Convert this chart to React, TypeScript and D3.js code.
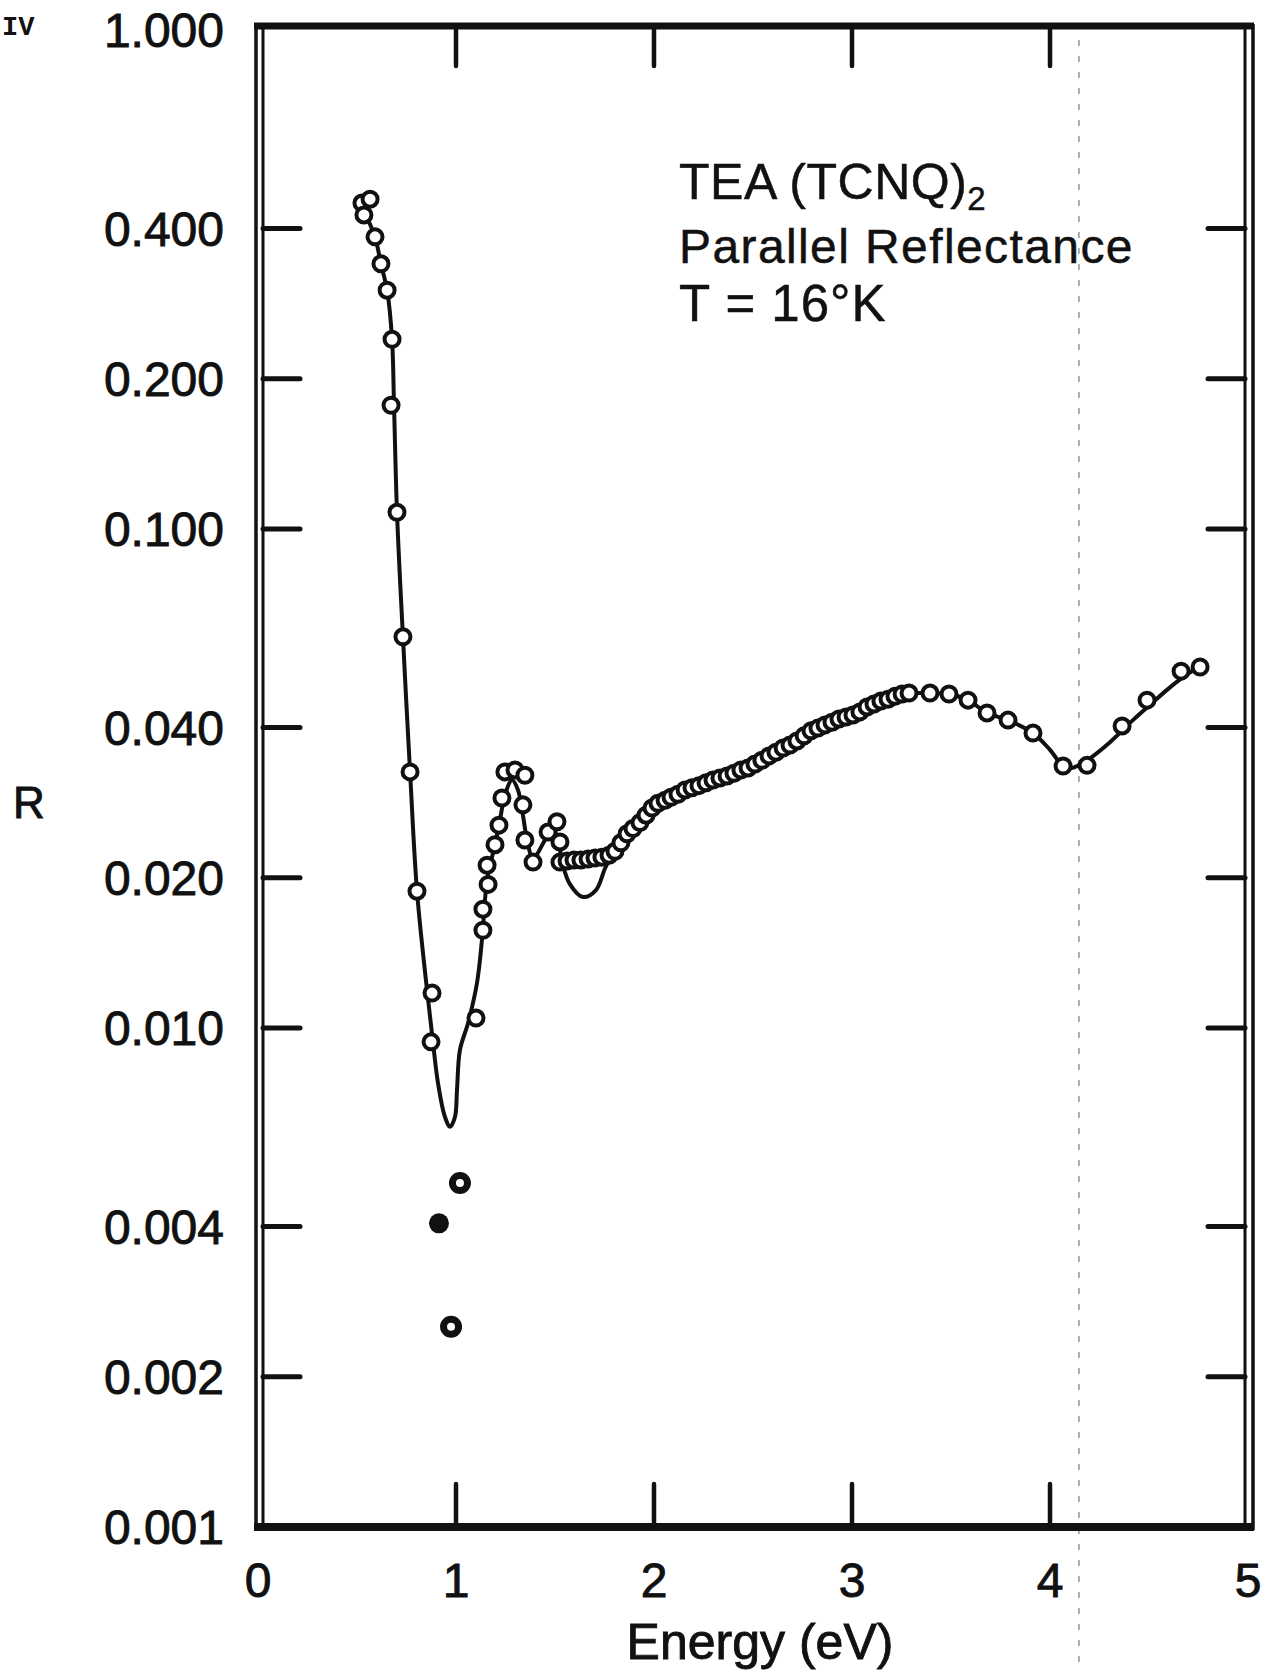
import React from "react";
import * as d3 from "d3";

// ---------- data ----------
const xTickValues = [0, 1, 2, 3, 4, 5];
const xInnerTicks = [1, 2, 3, 4];
const yTickValues = [1, 0.4, 0.2, 0.1, 0.04, 0.02, 0.01, 0.004, 0.002, 0.001];
const yTickLabels = ["1.000", "0.400", "0.200", "0.100", "0.040", "0.020", "0.010", "0.004", "0.002", "0.001"];
const yInnerTicks = [0.4, 0.2, 0.1, 0.04, 0.02, 0.01, 0.004, 0.002];

// smooth fitted curve (solid line)
const curveE = [0.556, 0.591, 0.621, 0.652, 0.677, 0.687, 0.702, 0.732, 0.768, 0.803, 0.848, 0.884, 0.909, 0.944, 0.970, 0.995, 1.005, 1.020, 1.061, 1.106, 1.131, 1.157, 1.197, 1.222, 1.247, 1.283, 1.313, 1.338, 1.359, 1.389, 1.449, 1.485, 1.515, 1.540, 1.576, 1.641, 1.707, 1.753, 1.793, 1.854, 1.924, 2.015, 2.096, 2.197, 2.298, 2.399, 2.485, 2.571, 2.636, 2.702, 2.763, 2.823, 2.904, 2.990, 3.051, 3.106, 3.167, 3.227, 3.293, 3.394, 3.490, 3.586, 3.682, 3.788, 3.914, 4.000, 4.066, 4.111, 4.187, 4.303, 4.419, 4.505, 4.591, 4.667, 4.742];
const curveR = [0.416, 0.385, 0.340, 0.301, 0.240, 0.177, 0.108, 0.0608, 0.0326, 0.0188, 0.01248, 0.00933, 0.00776, 0.00664, 0.00634, 0.00664, 0.00751, 0.00904, 0.01023, 0.01231, 0.0150, 0.0198, 0.0233, 0.0261, 0.0293, 0.0314, 0.0300, 0.0267, 0.0238, 0.0219, 0.0238, 0.0252, 0.0238, 0.0212, 0.0194, 0.0183, 0.0189, 0.0209, 0.0224, 0.0244, 0.0257, 0.0282, 0.0293, 0.0304, 0.0314, 0.0324, 0.0333, 0.0349, 0.0361, 0.0373, 0.0387, 0.0399, 0.0412, 0.0422, 0.0434, 0.0444, 0.0456, 0.0465, 0.0469, 0.0469, 0.0467, 0.0454, 0.0428, 0.0414, 0.0390, 0.0361, 0.0335, 0.0332, 0.0344, 0.0374, 0.0414, 0.0444, 0.0476, 0.0503, 0.0527];

// measured points (open circles), low-energy part
const openE = [0.525, 0.566, 0.535, 0.591, 0.621, 0.652, 0.677, 0.672, 0.702, 0.732, 0.768, 0.803, 0.879, 0.874, 1.101, 1.136, 1.136, 1.162, 1.157, 1.197, 1.217, 1.232, 1.247, 1.298, 1.348, 1.338, 1.348, 1.389, 1.465, 1.510, 1.525];
const openR = [0.450, 0.458, 0.426, 0.385, 0.340, 0.301, 0.240, 0.177, 0.108, 0.0608, 0.0326, 0.0188, 0.01175, 0.00938, 0.01047, 0.0157, 0.0173, 0.0194, 0.0212, 0.0233, 0.0255, 0.0289, 0.0326, 0.0329, 0.0321, 0.0280, 0.0238, 0.0215, 0.0247, 0.0259, 0.0236];

// densely measured points 1.5 - 3.3 eV (overlapping circles)
const bandE = [1.525, 1.561, 1.596, 1.631, 1.667, 1.702, 1.737, 1.773, 1.803, 1.833, 1.864, 1.894, 1.929, 1.960, 1.990, 2.020, 2.056, 2.086, 2.121, 2.157, 2.192, 2.227, 2.263, 2.298, 2.333, 2.369, 2.404, 2.439, 2.475, 2.510, 2.545, 2.581, 2.616, 2.652, 2.687, 2.722, 2.758, 2.793, 2.828, 2.864, 2.899, 2.934, 2.970, 3.005, 3.040, 3.076, 3.111, 3.146, 3.182, 3.217, 3.253, 3.288];
const bandR = [0.0215, 0.0216, 0.0217, 0.0217, 0.0218, 0.0219, 0.0220, 0.0222, 0.0226, 0.0235, 0.0245, 0.0251, 0.0258, 0.0267, 0.0276, 0.0282, 0.0286, 0.0290, 0.0294, 0.0300, 0.0303, 0.0306, 0.0310, 0.0314, 0.0317, 0.0320, 0.0324, 0.0329, 0.0332, 0.0338, 0.0344, 0.0351, 0.0357, 0.0364, 0.0369, 0.0376, 0.0385, 0.0394, 0.0399, 0.0405, 0.0410, 0.0416, 0.0420, 0.0424, 0.0430, 0.0440, 0.0446, 0.0452, 0.0456, 0.0462, 0.0467, 0.0469];

// measured points (open circles), high-energy part
const tailE = [3.394, 3.490, 3.586, 3.682, 3.788, 3.914, 4.066, 4.187, 4.364, 4.490, 4.662, 4.758];
const tailR = [0.0469, 0.0467, 0.0454, 0.0428, 0.0414, 0.0390, 0.0335, 0.0336, 0.0403, 0.0454, 0.0519, 0.0529];

// isolated low points
const ringE = [1.020, 0.975];
const ringR = [0.00489, 0.00252];
const dotE = [0.914];
const dotR = [0.00406];

const foldLineE = 4.146;

const titleLines = ["Parallel Reflectance", "T = 16\u00B0K"];

// ---------- layout ----------
const W = 1265;
const H = 1671;
const X0 = 258;
const X1 = 1248;
const YTOP = 30;
const YBOT = 1527;
const FONT = "'Liberation Sans', Arial, Helvetica, sans-serif";
const INK = "#111";

export default function App() {
  const x = d3.scaleLinear().domain([0, 5]).range([X0, X1]);
  const y = d3.scaleLog().domain([0.001, 1]).range([YBOT, YTOP]);

  const curvePts: [number, number][] = curveE.map((e, i) => [e, curveR[i]]);
  const line = d3
    .line<[number, number]>()
    .x((d) => x(d[0]))
    .y((d) => y(d[1]))
    .curve(d3.curveCatmullRom.alpha(0.5));

  const circles: [number, number][] = [
    ...openE.map((e, i) => [e, openR[i]] as [number, number]),
    ...bandE.map((e, i) => [e, bandR[i]] as [number, number]),
    ...tailE.map((e, i) => [e, tailR[i]] as [number, number]),
  ];

  const left = X0 - 2;
  const right = X1 + 1;
  const textInk = { fill: INK, stroke: INK, strokeWidth: 0.9 };

  return (
    <svg
      width={W}
      height={H}
      viewBox={`0 0 ${W} ${H}`}
      style={{ position: "absolute", left: 0, top: 0, background: "#fff" }}
    >
      <rect x={0} y={0} width={W} height={H} fill="#fff" />

      {/* scan fold line */}
      <line
        x1={x(foldLineE)}
        x2={x(foldLineE)}
        y1={40}
        y2={H}
        stroke="#777"
        strokeWidth={1.2}
        strokeDasharray="6 10"
      />

      {/* frame */}
      <line x1={left - 2} x2={right + 5} y1={26} y2={26} stroke={INK} strokeWidth={7} />
      <line x1={left - 2} x2={right + 5} y1={1527} y2={1527} stroke={INK} strokeWidth={8} />
      <line x1={left} x2={left} y1={24} y2={1530} stroke={INK} strokeWidth={3.5} />
      <line x1={left + 7} x2={left + 7} y1={24} y2={1530} stroke={INK} strokeWidth={3} />
      <line x1={right - 4} x2={right - 4} y1={24} y2={1530} stroke={INK} strokeWidth={3} />
      <line x1={right + 4} x2={right + 4} y1={24} y2={1530} stroke={INK} strokeWidth={3.5} />

      {/* x ticks top and bottom */}
      {xInnerTicks.map((v) => (
        <g key={"xt" + v}>
          <line x1={x(v)} x2={x(v)} y1={29} y2={66} stroke={INK} strokeWidth={4.5} strokeLinecap="round" />
          <line x1={x(v)} x2={x(v)} y1={1524} y2={1484} stroke={INK} strokeWidth={4.5} strokeLinecap="round" />
        </g>
      ))}

      {/* y ticks left and right */}
      {yInnerTicks.map((v) => (
        <g key={"yt" + v}>
          <line x1={left + 7} x2={300} y1={y(v)} y2={y(v)} stroke={INK} strokeWidth={5} strokeLinecap="round" />
          <line x1={right - 4} x2={1208} y1={y(v)} y2={y(v)} stroke={INK} strokeWidth={5} strokeLinecap="round" />
        </g>
      ))}

      {/* y tick labels */}
      {yTickValues.map((v, i) => (
        <text
          key={"yl" + v}
          x={224}
          y={y(v)}
          dy="0.36em"
          textAnchor="end"
          fontFamily={FONT}
          fontSize={48}
          {...textInk}
        >
          {yTickLabels[i]}
        </text>
      ))}

      {/* x tick labels */}
      {xTickValues.map((v) => (
        <text
          key={"xl" + v}
          x={x(v)}
          y={1597}
          textAnchor="middle"
          fontFamily={FONT}
          fontSize={48}
          {...textInk}
        >
          {v}
        </text>
      ))}

      {/* axis titles */}
      <text x={760} y={1659} textAnchor="middle" fontFamily={FONT} fontSize={50} {...textInk}>
        Energy (eV)
      </text>
      <text x={29} y={818} textAnchor="middle" fontFamily={FONT} fontSize={44} {...textInk}>
        R
      </text>
      <text
        x={2}
        y={35}
        fontFamily="'Liberation Mono', 'DejaVu Sans Mono', monospace"
        fontSize={27}
        fontWeight="bold"
        fill={INK}
      >
        IV
      </text>

      {/* annotation */}
      <text x={679} y={199} fontFamily={FONT} fontSize={50} letterSpacing={0.5} {...textInk} strokeWidth={0.5}>
        TEA (TCNQ)
        <tspan dy={11} fontSize={33}>2</tspan>
      </text>
      {titleLines.map((t, i) => (
        <text
          key={t}
          x={679}
          y={263 + i * 58}
          fontFamily={FONT}
          fontSize={i === 0 ? 48 : 51}
          letterSpacing={i === 0 ? 1.4 : 1}
          {...textInk}
          strokeWidth={0.5}
        >
          {t}
        </text>
      ))}

      {/* fitted curve */}
      <path d={line(curvePts) || ""} fill="none" stroke={INK} strokeWidth={4} strokeLinejoin="round" />

      {/* measured points */}
      {circles.map((d, i) => (
        <circle key={"c" + i} cx={x(d[0])} cy={y(d[1])} r={7.5} fill="#fff" stroke={INK} strokeWidth={4} />
      ))}

      {/* isolated low points */}
      {ringE.map((e, i) => (
        <circle key={"r" + i} cx={x(e)} cy={y(ringR[i])} r={7.5} fill="#fff" stroke={INK} strokeWidth={7} />
      ))}
      {dotE.map((e, i) => (
        <circle key={"d" + i} cx={x(e)} cy={y(dotR[i])} r={10} fill={INK} />
      ))}
    </svg>
  );
}
